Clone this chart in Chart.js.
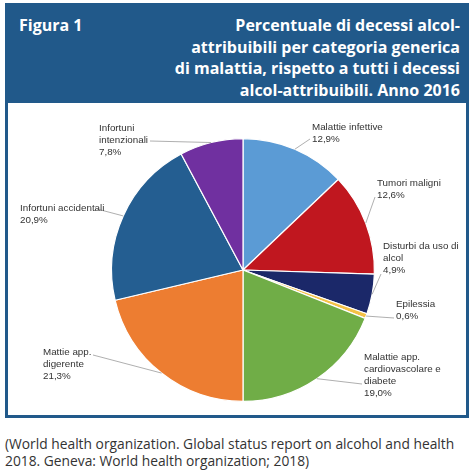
<!DOCTYPE html>
<html>
<head>
<meta charset="utf-8">
<script src="https://cdn.jsdelivr.net/npm/chart.js@4.4.0/dist/chart.umd.min.js"></script>
<style>
	body { margin: 0; background: #fff; }
	#page { position: relative; width: 474px; height: 476px; overflow: hidden; font-family: 'Open Sans', sans-serif; }
	#box { position: absolute; left: 5px; top: 3px; width: 458px; height: 412px; border: 3px solid #21598a; border-top: 0; }
	#head { position: absolute; left: 0; top: 0; width: 458px; height: 100px; background: #21598a; color: #fff; font-weight: bold; font-size: 16px; }
	#fig { position: absolute; left: 11px; top: 12px; line-height: 21.7px; }
	#title { position: absolute; right: 6px; top: 12px; text-align: right; line-height: 21.7px; }
	#caption { position: absolute; left: 5px; top: 435px; font-size: 13.8px; line-height: 17px; color: #333; }
	#recipeChart { position: absolute; left: 0; top: 0; }
</style>
</head>
<body>
<div id="page">
	<div id="box">
		<div id="head">
			<div id="fig">Figura 1</div>
			<div id="title">Percentuale di decessi alcol-<br>attribuibili per categoria generica<br>di malattia, rispetto a tutti i decessi<br>alcol-attribuibili. Anno 2016</div>
		</div>
	</div>
	<div id="caption">(World health organization. Global status report on alcohol and health<br>2018. Geneva: World health organization; 2018)</div>
	<canvas id="recipeChart" width="474" height="476"></canvas>
</div>
<script>
const categories = ['Malattie infettive', 'Tumori maligni', 'Disturbi da uso di\nalcol', 'Epilessia',
	'Malattie app.\ncardiovascolare e\ndiabete', 'Mattie app.\ndigerente', 'Infortuni accidentali', 'Infortuni\nintenzionali'];
const values = [12.9, 12.6, 4.9, 0.6, 19.0, 21.3, 20.9, 7.8];
const colors = ['#5b9bd5', '#c0171f', '#1b2869', '#f4c146', '#70ad47', '#ed7d31', '#245e91', '#7030a0'];

// where each label sits (text left x, first line y) and where its leader line stops
const labelText = [[312, 127], [377, 183], [383, 246], [396, 304], [364, 357], [43, 352], [20, 208], [99, 128]];
const lineEnd = [[310, 139], [375, 197], [381, 274], [394, 318], [362, 384], [93, 355], [97, 209], [150, 141]];

const crt = document.getElementById('recipeChart');

const pieLabels = {
	id: 'pieLabels',
	afterDatasetsDraw(chart) {
		const ctx = chart.ctx;
		const arcs = chart.getDatasetMeta(0).data;
		ctx.save();
		ctx.font = '9.8px "Liberation Sans", Arial, sans-serif';
		ctx.textBaseline = 'middle';
		ctx.textAlign = 'left';
		arcs.forEach(function(arc, i) {
			const p = arc.getProps(['x', 'y', 'startAngle', 'endAngle', 'outerRadius'], true);
			const mid = (p.startAngle + p.endAngle) / 2;
			const ax = p.x + Math.cos(mid) * p.outerRadius;
			const ay = p.y + Math.sin(mid) * p.outerRadius;
			ctx.strokeStyle = '#9a9a9a';
			ctx.lineWidth = 0.8;
			ctx.beginPath();
			ctx.moveTo(ax, ay);
			ctx.lineTo(lineEnd[i][0], lineEnd[i][1]);
			ctx.stroke();
			const lines = categories[i].split('\n');
			lines.push(values[i].toFixed(1).replace('.', ',') + '%');
			ctx.fillStyle = '#333333';
			lines.forEach(function(t, k) {
				ctx.fillText(t, labelText[i][0], labelText[i][1] + k * 12);
			});
		});
		ctx.restore();
	}
};

new Chart(crt, {
	type: 'pie',
	data: {
		labels: categories,
		datasets: [{
			data: values,
			backgroundColor: colors,
			borderColor: '#ffffff',
			borderWidth: 1.2,
			hoverOffset: 0
		}]
	},
	options: {
		responsive: false,
		animation: false,
		layout: {
			padding: { top: 138, bottom: 74, left: 111, right: 99 }
		},
		plugins: {
			legend: { display: false },
			tooltip: { enabled: false }
		}
	},
	plugins: [pieLabels]
});
</script>
</body>
</html>
